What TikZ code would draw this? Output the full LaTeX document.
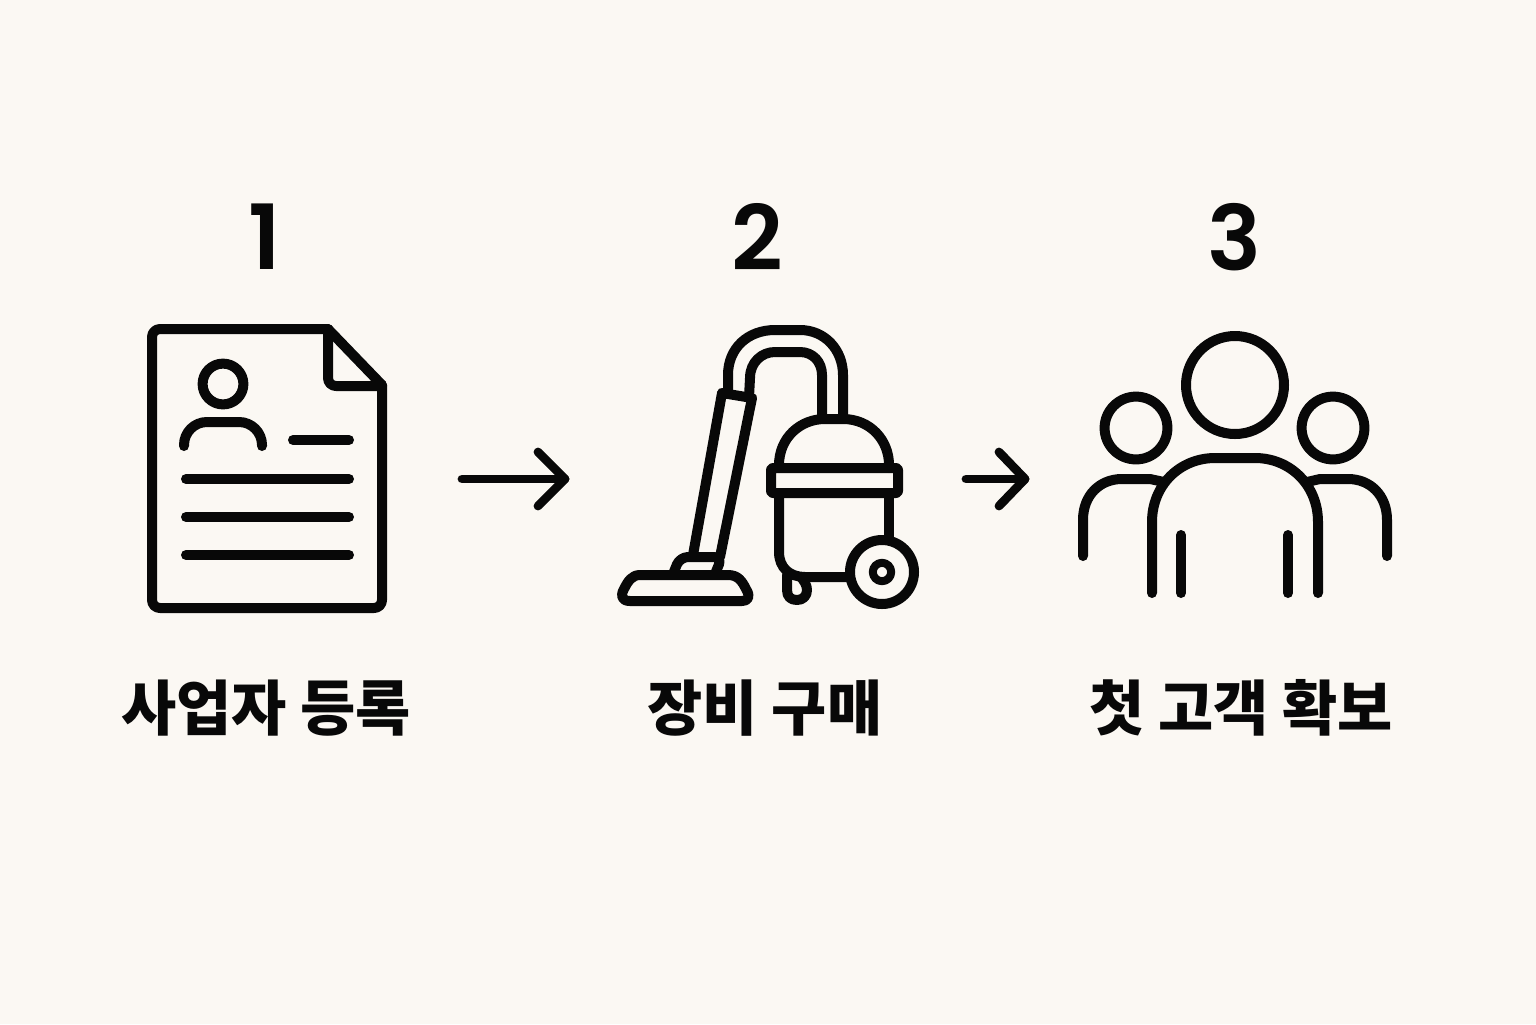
\documentclass[tikz,border=0pt]{standalone}
\usepackage{fontspec}
\newfontfamily\kr{Noto Sans CJK KR}
\newfontfamily\numfont{Poppins}[UprightFont=* SemiBold]
\definecolor{paper}{HTML}{FBF8F3}
\definecolor{ink}{HTML}{080808}
\tikzset{
  icon/.style={draw=ink,line width=5pt,line cap=round,line join=round},
  numlabel/.style={text=ink,inner sep=0pt,font=\numfont\fontsize{45}{50}\selectfont},
  steplabel/.style={text=ink,inner sep=0pt,font=\kr\bfseries\fontsize{30}{36}\selectfont},
  flowarrow/.style={icon,line width=4.4pt}
}
\begin{document}
\begin{tikzpicture}[x=0.5pt,y=-0.5pt]
\fill[paper] (0,0) rectangle (1536,1024);
\useasboundingbox (0,0) rectangle (1536,1024);
% numbers
\node[numlabel] (n1) at (265,237) {1};
\node[numlabel] (n2) at (757,237) {2};
\node[numlabel] (n3) at (1234,237) {3};
% document icon
\draw[icon,rounded corners=4pt] (328,329) -- (152,329) -- (152,608) -- (382,608) -- (382,385);
\draw[icon] (328,329) -- (382,385);
\draw[icon,rounded corners=4pt] (328,329) -- (328,386) -- (382,386);
\draw[icon] (223,384) circle[radius=10.2pt];
\draw[icon] (184,446) -- (184,445) arc[start angle=180,end angle=90,radius=11.5pt] -- (239,422) arc[start angle=90,end angle=0,radius=11.5pt] -- (262,446);
\draw[icon] (293,440) -- (349,440);
\draw[icon] (186,479) -- (349,479);
\draw[icon] (186,517) -- (349,517);
\draw[icon] (186,555) -- (349,555);
% arrows
\coordinate (a1s) at (462,479); \coordinate (a1e) at (565,479);
\draw[flowarrow] (a1s) -- (a1e);
\draw[flowarrow] (538,452) -- (a1e) -- (538,506);
\coordinate (a2s) at (966,479); \coordinate (a2e) at (1025,479);
\draw[flowarrow] (a2s) -- (a2e);
\draw[flowarrow] (999,452) -- (a2e) -- (999,506);
% vacuum
\draw[icon] (728,392) -- (728,375) .. controls (728,348) and (748,330) .. (775,330) -- (800,330) .. controls (825,330) and (843,350) .. (843,375) -- (843,415);
\draw[icon] (749,397) -- (750,378) .. controls (750,362) and (762,352) .. (775,352) -- (800,352) .. controls (813,352) and (822,362) .. (822,375) -- (822,415);
\draw[icon] (722,393) -- (752,398);
\draw[icon] (722,393) -- (693,555);
\draw[icon] (752,398) -- (720,557);
\draw[icon,rounded corners=4pt] (673,574) -- (680,557) -- (722,557) -- (715,574);
\draw[icon] (640,575) -- (728,575) .. controls (738,575) and (742,581) .. (746,589) .. controls (751,597) and (748,601) .. (742,601) -- (630,601) .. controls (622,601) and (620,596) .. (624,589) .. controls (628,581) and (632,575) .. (640,575) -- cycle;
\draw[icon] (779,468) -- (779,465) .. controls (779,438) and (800,419) .. (825,419) -- (843,419) .. controls (870,419) and (889,440) .. (889,465) -- (889,468);
\draw[icon,rounded corners=1pt] (771,468) rectangle (898,493);
\draw[icon] (779,493) -- (779,552) .. controls (779,568) and (790,577) .. (805,577) -- (848,577);
\draw[icon] (889,493) -- (889,537);
\draw[icon] (882,572) circle[radius=16pt];
\draw[icon,line width=4pt] (882,572) circle[radius=4.6pt];
\draw[icon] (787,575) -- (787,590) .. controls (787,597) and (791,600) .. (797,600) .. controls (803,600) and (807,596) .. (807,590) .. controls (807,585) and (804,581) .. (801,577);
% people
\draw[icon] (1235,385) circle[radius=24.5pt];
\draw[icon] (1136,428) circle[radius=15.7pt];
\draw[icon] (1333,428) circle[radius=15.7pt];
\draw[icon] (1152,593) -- (1152,522) .. controls (1152,485) and (1180,458) .. (1215,458) -- (1255,458) .. controls (1290,458) and (1318,485) .. (1318,522) -- (1318,593);
\draw[icon] (1181,535) -- (1181,593);
\draw[icon] (1288,535) -- (1288,593);
\draw[icon] (1083,556) -- (1083,520) .. controls (1083,495) and (1100,479) .. (1122,479) -- (1150,479) -- (1164,482);
\draw[icon] (1387,556) -- (1387,520) .. controls (1387,495) and (1370,479) .. (1348,479) -- (1320,479) -- (1307,482);
% labels
\node[steplabel] (l1) at (266,708) {사업자 등록};
\node[steplabel] (l2) at (765,708) {장비 구매};
\node[steplabel] (l3) at (1241,708) {첫 고객 확보};
\end{tikzpicture}
\end{document}
